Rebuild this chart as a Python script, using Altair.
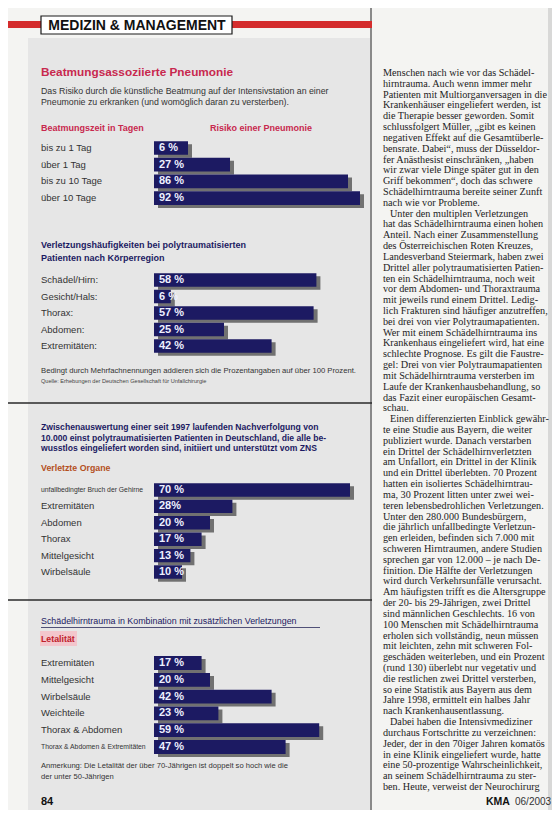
import altair as alt
import pandas as pd

# ---------------- data ----------------
header_text = "MEDIZIN & MANAGEMENT"

s1_title = "Beatmungsassoziierte Pneumonie"
s1_desc = ["Das Risiko durch die künstliche Beatmung auf der Intensivstation an einer",
           "Pneumonie zu erkranken (und womöglich daran zu versterben)."]
s1_head_left = "Beatmungszeit in Tagen"
s1_head_right = "Risiko einer Pneumonie"
s1_cats = ["bis zu 1 Tag", "über 1 Tag", "bis zu 10 Tage", "über 10 Tage"]
s1_vals = [6, 27, 86, 92]
s1_labels = ["6 %", "27 %", "86 %", "92 %"]

s2_title = ["Verletzungshäufigkeiten bei polytraumatisierten",
            "Patienten nach Körperregion"]
s2_cats = ["Schädel/Hirn:", "Gesicht/Hals:", "Thorax:", "Abdomen:", "Extremitäten:"]
s2_vals = [58, 6, 57, 25, 42]
s2_labels = ["58 %", "6 %", "57 %", "25 %", "42 %"]
s2_notes = ["Bedingt durch Mehrfachnennungen addieren sich die Prozentangaben auf über 100 Prozent.",
            "Quelle: Erhebungen der Deutschen Gesellschaft für Unfallchirurgie"]

s3_title = ["Zwischenauswertung einer seit 1997 laufenden Nachverfolgung von",
            "10.000 einst polytraumatisierten Patienten in Deutschland, die alle be-",
            "wusstlos eingeliefert worden sind, initiiert und unterstützt vom ZNS"]
s3_sub = "Verletzte Organe"
s3_cats = ["unfallbedingter Bruch der Gehirne", "Extremitäten", "Abdomen", "Thorax",
           "Mittelgesicht", "Wirbelsäule"]
s3_vals = [70, 28, 20, 17, 13, 10]
s3_labels = ["70 %", "28%", "20 %", "17 %", "13 %", "10 %"]

s4_title = "Schädelhirntrauma in Kombination mit zusätzlichen Verletzungen"
s4_sub = "Letalität"
s4_cats = ["Extremitäten", "Mittelgesicht", "Wirbelsäule", "Weichteile",
           "Thorax & Abdomen", "Thorax & Abdomen & Extremitäten"]
s4_vals = [17, 20, 42, 23, 59, 47]
s4_labels = ["17 %", "20 %", "42 %", "23 %", "59 %", "47 %"]
s4_notes = ["Anmerkung: Die Letalität der über 70-Jährigen ist doppelt so hoch wie die",
            "der unter 50-Jährigen"]

page_number = "84"
footer_mag = "KMA"
footer_issue = "06/2003"

body_lines = [
    "Menschen nach wie vor das Schädel-",
    "hirntrauma. Auch wenn immer mehr",
    "Patienten mit Multiorganversagen in die",
    "Krankenhäuser eingeliefert werden, ist",
    "die Therapie besser geworden. Somit",
    "schlussfolgert Müller, „gibt es keinen",
    "negativen Effekt auf die Gesamtüberle-",
    "bensrate. Dabei“, muss der Düsseldor-",
    "fer Anästhesist einschränken, „haben",
    "wir zwar viele Dinge später gut in den",
    "Griff bekommen“, doch das schwere",
    "Schädelhirntrauma bereite seiner Zunft",
    "nach wie vor Probleme.",
    "Unter den multiplen Verletzungen",
    "hat das Schädelhirntrauma einen hohen",
    "Anteil. Nach einer Zusammenstellung",
    "des Österreichischen Roten Kreuzes,",
    "Landesverband Steiermark, haben zwei",
    "Drittel aller polytraumatisierten Patien-",
    "ten ein Schädelhirntrauma, noch weit",
    "vor dem Abdomen- und Thoraxtrauma",
    "mit jeweils rund einem Drittel. Ledig-",
    "lich Frakturen sind häufiger anzutreffen,",
    "bei drei von vier Polytraumapatienten.",
    "Wer mit einem Schädelhirntrauma ins",
    "Krankenhaus eingeliefert wird, hat eine",
    "schlechte Prognose. Es gilt die Faustre-",
    "gel: Drei von vier Polytraumapatienten",
    "mit Schädelhirntrauma versterben im",
    "Laufe der Krankenhausbehandlung, so",
    "das Fazit einer europäischen Gesamt-",
    "schau.",
    "Einen differenzierten Einblick gewähr-",
    "te eine Studie aus Bayern, die weiter",
    "publiziert wurde. Danach verstarben",
    "ein Drittel der Schädelhirnverletzten",
    "am Unfallort, ein Drittel in der Klinik",
    "und ein Drittel überlebten. 70 Prozent",
    "hatten ein isoliertes Schädelhirntrau-",
    "ma, 30 Prozent litten unter zwei wei-",
    "teren lebensbedrohlichen Verletzungen.",
    "Unter den 280.000 Bundesbürgern,",
    "die jährlich unfallbedingte Verletzun-",
    "gen erleiden, befinden sich 7.000 mit",
    "schweren Hirntraumen, andere Studien",
    "sprechen gar von 12.000 – je nach De-",
    "finition. Die Hälfte der Verletzungen",
    "wird durch Verkehrsunfälle verursacht.",
    "Am häufigsten trifft es die Altersgruppe",
    "der 20- bis 29-Jährigen, zwei Drittel",
    "sind männlichen Geschlechts. 16 von",
    "100 Menschen mit Schädelhirntrauma",
    "erholen sich vollständig, neun müssen",
    "mit leichten, zehn mit schweren Fol-",
    "geschäden weiterleben, und ein Prozent",
    "(rund 130) überlebt nur vegetativ und",
    "die restlichen zwei Drittel versterben,",
    "so eine Statistik aus Bayern aus dem",
    "Jahre 1998, ermittelt ein halbes Jahr",
    "nach Krankenhausentlassung.",
    "Dabei haben die Intensivmediziner",
    "durchaus Fortschritte zu verzeichnen:",
    "Jeder, der in den 70iger Jahren komatös",
    "in eine Klinik eingeliefert wurde, hatte",
    "eine 50-prozentige Wahrscheinlichkeit,",
    "an seinem Schädelhirntrauma zu ster-",
    "ben. Heute, verweist der Neurochirurg",
]
paragraph_starts = [13, 32, 60]

# ---------------- styling helpers ----------------
SANS = "Liberation Sans"
SERIF = "Liberation Serif"
NAVY = "#1c1a62"
CRIMSON = "#c8284e"
W, H = 544, 802
one = alt.Data(values=[{}])


def px(v):
    return v - 8


def T(s, X, Y, size=10, color="#222", weight="normal", font=SANS, align="left"):
    return alt.Chart(one).mark_text(
        text=s, fontSize=size, color=color, fontWeight=weight, font=font,
        align=align, baseline="middle"
    ).encode(x=alt.value(px(X)), y=alt.value(px(Y)))


def R(X1, X2, Y1, Y2, color, stroke=None, sw=0, opacity=1.0):
    kw = dict(color=color, opacity=opacity)
    if stroke:
        kw.update(stroke=stroke, strokeWidth=sw)
    return alt.Chart(one).mark_rect(**kw).encode(
        x=alt.value(px(X1)), x2=alt.value(px(X2)),
        y=alt.value(px(Y1)), y2=alt.value(px(Y2)))


def L(X1, X2, Y1, Y2, color, sw=1.0):
    return alt.Chart(one).mark_rule(color=color, strokeWidth=sw).encode(
        x=alt.value(px(X1)), x2=alt.value(px(X2)),
        y=alt.value(px(Y1)), y2=alt.value(px(Y2)))


def section(cats, vals, labels, first_center, step, x_domain, bar_px, small=()):
    df = pd.DataFrame({"cat": cats, "val": vals, "lab": labels})
    n = len(cats)
    y0 = px(first_center - step / 2)
    yscale = alt.Scale(domain=cats, range=[y0, y0 + n * step],
                       paddingInner=0.18, paddingOuter=0.09)
    xscale = alt.Scale(domain=x_domain, range=[px(154), px(154 + bar_px)])
    Y = alt.Y("cat:N", scale=yscale, axis=None, sort=cats)
    X = alt.X("val:Q", scale=xscale, axis=None)
    X2 = alt.datum(x_domain[0])
    base = alt.Chart(df)
    shadow = base.mark_bar(color="#111", opacity=0.55, xOffset=4, x2Offset=4,
                           yOffset=3, y2Offset=3).encode(x=X, x2=X2, y=Y)
    bars = base.mark_bar(color=NAVY).encode(x=X, x2=X2, y=Y)
    vlab = base.mark_text(align="left", baseline="middle", color="#eef0ff",
                          fontWeight="bold", fontSize=11, font=SANS).encode(
        x=alt.value(px(159)), y=Y, text="lab:N")
    if small:
        test = " || ".join("datum.cat == '%s'" % s for s in small)
    else:
        test = "false"
    clab = base.mark_text(align="left", baseline="middle", color="#333",
                          font=SANS).encode(
        x=alt.value(px(41)), y=Y, text="cat:N",
        size=alt.condition(test, alt.value(6.8), alt.value(9.5)))
    return alt.layer(shadow, bars, vlab, clab)


# ---------------- page decorations ----------------
layers = []
layers.append(R(28, 370, 38, 818, "#e6e6e6"))
layers.append(L(371, 371, 0, 818, "#8a8a8a", 2))
layers.append(R(548, 560, 0, 818, "#c4c4c4", opacity=0.6))
# header
layers.append(R(0, 372, 21, 28, "#d42c2c"))
layers.append(R(41, 232, 16, 34, "#ffffff", stroke="#1a1a1a", sw=1.2))
layers.append(T(header_text, 137, 25.5, 14, "#111", "bold", align="center"))

# section 1
layers.append(T(s1_title, 41, 72, 11.8, CRIMSON, "bold"))
layers.append(T(s1_desc[0], 41, 91, 8.8, "#333"))
layers.append(T(s1_desc[1], 41, 102, 8.8, "#333"))
layers.append(T(s1_head_left, 41, 128, 9, CRIMSON, "bold"))
layers.append(T(s1_head_right, 210, 128, 9, CRIMSON, "bold"))
layers.append(section(s1_cats, s1_vals, s1_labels, 148, 16.7, [-11, 100], 222))

# section 2
layers.append(T(s2_title[0], 41, 245, 9, NAVY, "bold"))
layers.append(T(s2_title[1], 41, 258, 9, NAVY, "bold"))
layers.append(section(s2_cats, s2_vals, s2_labels, 280, 16.5, [0, 100], 280))
layers.append(T(s2_notes[0], 41, 371, 7.7, "#333"))
layers.append(T(s2_notes[1], 41, 381, 5.6, "#444"))
layers.append(L(0, 372, 403, 403, "#2a2a2a", 1.6))

# section 3
for i, line in enumerate(s3_title):
    layers.append(T(line, 41, 427 + 10.6 * i, 8.6, NAVY, "bold"))
layers.append(T(s3_sub, 41, 468, 8.8, "#b4501e", "bold"))
layers.append(section(s3_cats, s3_vals, s3_labels, 490, 16.4, [0, 100], 280,
                      small=[s3_cats[0]]))
layers.append(L(0, 372, 600, 600, "#2a2a2a", 1.6))

# section 4
layers.append(T(s4_title, 41, 621, 8.9, NAVY))
layers.append(L(41, 320, 627.5, 627.5, "#2a2a5a", 0.8))
layers.append(R(40, 77, 631, 646, "#f3c6cc"))
layers.append(T(s4_sub, 41, 638.5, 8.8, "#c0202a", "bold"))
layers.append(section(s4_cats, s4_vals, s4_labels, 663, 16.8, [0, 100], 280,
                      small=[s4_cats[-1]]))
layers.append(T(s4_notes[0], 41, 766, 7.6, "#333"))
layers.append(T(s4_notes[1], 41, 777, 7.6, "#333"))
layers.append(T(page_number, 41, 802, 11, "#111", "bold"))

# right column body text
body = pd.DataFrame({"line": body_lines, "i": list(range(len(body_lines)))})
body["indent"] = body["i"].isin(paragraph_starts)
yb = alt.Y("i:Q", scale=alt.Scale(domain=[0, len(body_lines) - 1],
                                   range=[px(73), px(787)]), axis=None)
body_plain = alt.Chart(body).transform_filter("!datum.indent").mark_text(
    align="left", baseline="middle", font=SERIF, fontSize=10.2, color="#222"
).encode(x=alt.value(px(383)), y=yb, text="line:N")
body_ind = alt.Chart(body).transform_filter("datum.indent").mark_text(
    align="left", baseline="middle", font=SERIF, fontSize=10.2, color="#222"
).encode(x=alt.value(px(390)), y=yb, text="line:N")
layers.append(alt.layer(body_plain, body_ind))

layers.append(T(footer_mag, 486, 802, 10.5, "#111", "bold"))
layers.append(T(footer_issue, 515, 802, 10, "#333"))

chart = alt.layer(*layers).resolve_scale(x="independent", y="independent").properties(
    width=W, height=H, padding=0,
    autosize=alt.AutoSizeParams(type="none")
).configure(background="#f4f4f2").configure_view(stroke=None)

chart.save("out.html", embed_options={"renderer": "svg", "actions": False})
